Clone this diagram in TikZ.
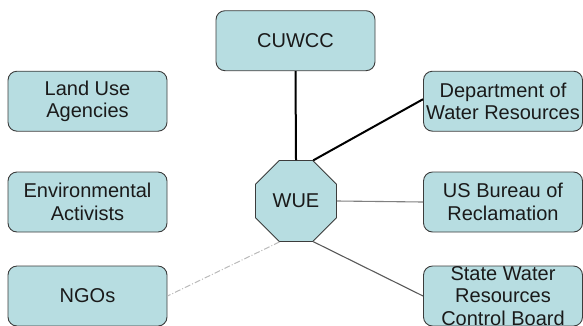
\documentclass[tikz,border=0pt]{standalone}
\usepackage{fontspec}
\setmainfont{Liberation Sans}
\usetikzlibrary{shapes.geometric}
\definecolor{boxfill}{HTML}{B7DDE1}
\definecolor{boxline}{HTML}{3C3C3C}
\definecolor{txt}{HTML}{1A1A1A}
\tikzset{
  orgbox/.style={draw=boxline, fill=boxfill, line width=0.9pt, rounded corners=9pt,
    minimum width=159pt, minimum height=60pt, inner sep=0pt, align=center,
    text=txt, font=\fontsize{20}{22.5}\selectfont},
  hub/.style={draw=boxline, fill=boxfill, line width=0.9pt, regular polygon, regular polygon sides=8,
    minimum size=87.7pt, inner sep=0pt, text=txt, font=\fontsize{20}{22.5}\selectfont},
  strong/.style={line width=2pt, black},
  weakline/.style={line width=1.1pt, color=#1},
  dotline/.style={line width=1pt, color=gray!55, dash pattern=on 6pt off 2pt on 1pt off 2pt},
}
\begin{document}
\begin{tikzpicture}[x=1pt,y=-1pt]
\useasboundingbox (0,0) rectangle (583,325);
\node[orgbox] (cuwcc) at (295.5,40.7) {CUWCC};
\node[orgbox] (land) at (87.5,101.2) {Land Use\\Agencies};
\node[orgbox] (env) at (87.5,202) {Environmental\\Activists};
\node[orgbox] (ngo) at (87.5,296) {NGOs};
\node[orgbox] (dwr) at (503,101.2) {Department of\\Water Resources};
\node[orgbox] (usbr) at (503,202) {US Bureau of\\Reclamation};
\node[orgbox] (swrcb) at (503,296) {State Water\\Resources\\Control Board};
\node[hub] (wue) at (296,201) {WUE};
\draw[strong] (cuwcc.south) -- (wue.north);
\draw[strong] (wue.67.5) -- ([yshift=2pt]dwr.west);
\draw[weakline=gray] (wue.east) -- (usbr.west);
\draw[weakline=black!65] (wue.-67.5) -- (swrcb.west);
\draw[dotline] (wue.-112.5) -- (ngo.east);
\end{tikzpicture}
\end{document}
